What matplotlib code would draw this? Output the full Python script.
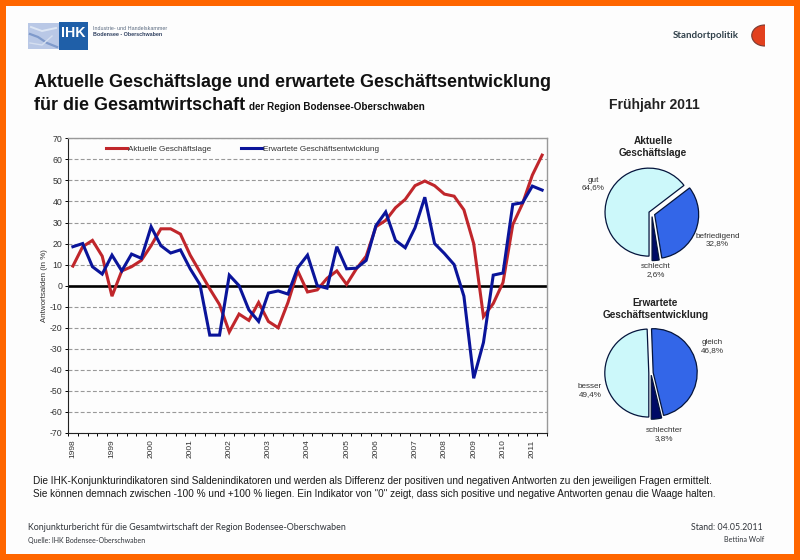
import matplotlib
matplotlib.use("Agg")
import matplotlib.pyplot as plt
from matplotlib.patches import Rectangle, Ellipse

W, H = 800, 560
plt.rcParams['font.family'] = ['Liberation Sans', 'DejaVu Sans']
plt.rcParams['axes.unicode_minus'] = False

# ---- data ----
aktuell = [9.3, 18.5, 21.5, 14, -5, 7, 9, 12, 19, 27, 27, 24.5, 14.5, 6.5, -1.5, -9, -22,
           -13.5, -16.5, -8, -17, -20, -8, 7, -3, -2, 3.5, 7, 0.6, 8, 14, 28, 31, 37, 41,
           47.5, 49.7, 47.5, 43.5, 42.5, 36, 20, -14.7, -8.5, 1.5, 29, 39, 52.5, 62]
erwartet = [18.5, 20, 9, 5.5, 14.5, 7, 15, 13, 28, 19, 15.5, 17, 8, 0.5, -23.5, -23.5, 5,
            0, -11.5, -17, -3.5, -2.5, -4, 8.5, 14.5, 0, -1.2, 18.5, 8, 8.3, 12, 28.5, 35,
            21.5, 18, 27.5, 42, 20, 15.3, 10, -5, -44, -27, 5, 6, 38.6, 39.4, 47.3, 45.4]
year_labels = ['1998', '1999', '2000', '2001', '2002', '2003', '2004', '2005', '2006',
               '2007', '2008', '2009', '2010', '2011']
year_index = [0, 4, 8, 12, 16, 20, 24, 28, 31, 35, 38, 41, 44, 47]
lage_labels = ['gut\n64,6%', 'befriedigend\n32,8%', 'schlecht\n2,6%']
lage_values = [64.6, 32.8, 2.6]
entw_labels = ['besser\n49,4%', 'gleich\n46,8%', 'schlechter\n3,8%']
entw_values = [49.4, 46.8, 3.8]
pie_colors = ['#CCF8FA', '#3366E8', '#000A66']

ORANGE = '#FF6600'
PAPER = '#FDFDFD'
TXT = '#1A1A1A'


def px_axes(x0, y0, x1, y1, **kw):
    return fig.add_axes([x0 / W, 1 - y1 / H, (x1 - x0) / W, (y1 - y0) / H], **kw)


fig = plt.figure(figsize=(W / 100, H / 100), dpi=100, facecolor=ORANGE)

# ---- page layer, in pixel coordinates ----
bg = px_axes(0, 0, W, H)
bg.set_xlim(0, W)
bg.set_ylim(H, 0)
bg.axis('off')
bg.add_patch(Rectangle((6, 6), 788, 548, fc=PAPER, ec='none'))
bg.add_patch(Rectangle((28, 23), 31, 26, fc='#B9C8E6', ec='none'))
bg.plot([30, 38, 47, 57], [34, 37, 43, 47], color='#7F9ACB', lw=1.6)
bg.plot([31, 42, 56], [27, 31, 28], color='#DDE6F4', lw=1.4)
bg.plot([30, 42, 52], [43, 45, 36], color='#D5DFF0', lw=1.0)
bg.add_patch(Rectangle((58.5, 22), 29.5, 28, fc='#1F5FA8', ec='none'))
bg.text(73.5, 33, 'IHK', color='white', fontsize=10.2, fontweight='bold', ha='center', va='center')
bg.text(93, 29, 'Industrie- und Handelskammer', fontsize=3.85, color='#5A6A80', va='center')
bg.text(93, 35, 'Bodensee - Oberschwaben', fontsize=3.85, color='#2F4060', va='center', fontweight='bold')
bg.text(673, 35.5, 'Standortpolitik', fontsize=7.0, color='#30404A', va='center',
        family='Lato', fontweight='bold')
half = Ellipse((764.5, 35.5), 25.5, 21, fc='#E2401E', ec='#7A3A30', lw=0.8)
bg.add_patch(half)
half.set_clip_path(Rectangle((750, 24), 14.5, 23, transform=bg.transData))

bg.text(34, 82.5, 'Aktuelle Geschäftslage und erwartete Geschäftsentwicklung', fontsize=13.0,
        fontweight='bold', color='#111111', va='center')
bg.text(34, 105.5, 'für die Gesamtwirtschaft', fontsize=13.0, fontweight='bold', color='#111111', va='center')
bg.text(249, 107.5, 'der Region Bodensee-Oberschwaben', fontsize=7.1, fontweight='bold',
        color='#111111', va='center')
bg.text(654, 105, 'Frühjahr 2011', fontsize=10.1, fontweight='bold', color='#222222', ha='center', va='center')
bg.text(653, 147, 'Aktuelle\nGeschäftslage', fontsize=7.2, fontweight='bold', color='#222222',
        ha='center', va='center', linespacing=1.2)
bg.text(655.5, 309, 'Erwartete\nGeschäftsentwicklung', fontsize=7.2, fontweight='bold', color='#222222',
        ha='center', va='center', linespacing=1.2)

bg.text(33, 481, 'Die IHK-Konjunkturindikatoren sind Saldenindikatoren und werden als Differenz der '
        'positiven und negativen Antworten zu den jeweiligen Fragen ermittelt.',
        fontsize=7.23, color=TXT, va='center')
bg.text(33, 494, 'Sie können demnach zwischen -100 % und +100 % liegen. Ein Indikator von "0" zeigt, '
        'dass sich positive und negative Antworten genau die Waage halten.',
        fontsize=7.23, color=TXT, va='center')
bg.text(28, 528, 'Konjunkturbericht für die Gesamtwirtschaft der Region Bodensee-Oberschwaben',
        fontsize=6.38, color='#30343A', va='center', family='Lato')
bg.text(28, 540, 'Quelle: IHK Bodensee-Oberschwaben', fontsize=5.03, color='#30343A', va='center', family='Lato')
bg.text(763, 528, 'Stand: 04.05.2011', fontsize=6.3, color='#30343A', ha='right', va='center', family='Lato')
bg.text(764, 540, 'Bettina Wolf', fontsize=5.1, color='#30343A', ha='right', va='center', family='Lato')

# ---- line chart ----
ax = px_axes(68, 138.3, 547, 433)
ax.set_facecolor(PAPER)
xs = list(range(len(aktuell)))
ax.set_xlim(-0.5, len(aktuell) - 0.5)
ax.set_ylim(-70, 70)
ax.yaxis.grid(True, ls=(0, (3.5, 2)), color='#999999', lw=0.8)
ax.set_axisbelow(True)
ax.axhline(0, color='black', lw=1.9, zorder=2)
ax.plot(xs, aktuell, color='#C0262B', lw=2.2, label='Aktuelle Geschäftslage', zorder=3,
        solid_joinstyle='miter')
ax.plot(xs, erwartet, color='#0A149A', lw=2.2, label='Erwartete Geschäftsentwicklung', zorder=4,
        solid_joinstyle='miter')
ax.set_yticks(range(-70, 71, 10))
ax.tick_params(axis='y', labelsize=6.3, labelcolor='#333333', length=2.5, width=0.7, pad=1.5)
ax.set_xticks([i - 0.5 for i in range(len(aktuell) + 1)])
ax.tick_params(axis='x', which='major', labelbottom=False, length=2.5, width=0.7)
ax.set_xticks(year_index, year_labels, minor=True)
ax.tick_params(axis='x', which='minor', length=0, labelsize=6.0, labelcolor='#333333', rotation=90, pad=4.5)
ax.set_ylabel('Antwortsalden (in %)', fontsize=5.7, color='#333333', labelpad=1)
for s in ('top', 'right'):
    ax.spines[s].set_color('#999999')
    ax.spines[s].set_linewidth(1.0)
for s in ('left', 'bottom'):
    ax.spines[s].set_color('#222222')
    ax.spines[s].set_linewidth(0.8)
leg = ax.legend(loc='upper left', bbox_to_anchor=(0.079, 0.977), ncol=2, frameon=False, fontsize=5.85,
                handlelength=2.6, handletextpad=0.1, columnspacing=3.7, labelcolor='#333333',
                borderaxespad=0, borderpad=0)


# ---- pies ----
def pie(cx, cy, values, labels, label_pos, gap):
    lim = 1.25
    half = 44 * lim
    a = px_axes(cx - half, cy - half, cx + half, cy + half)
    a.pie(values, colors=pie_colors, startangle=270, counterclock=False, radius=1,
          explode=[gap] * 3, wedgeprops=dict(edgecolor='#04143C', linewidth=0.9))
    a.set_xlim(-lim, lim)
    a.set_ylim(-lim, lim)
    a.set_facecolor('none')
    for lab, (x, y) in zip(labels, label_pos):
        bg.text(x, y, lab, fontsize=5.85, color='#333333', ha='center', va='center', linespacing=1.2,
                zorder=5)


pie(651.8, 213.5, lage_values, lage_labels, [(593, 184), (717.5, 240), (656, 271)], 0.07)
pie(651, 373, entw_values, entw_labels, [(590, 391), (712, 347), (664, 435)], 0.05)

fig.savefig('out.png', dpi=100, facecolor=ORANGE)
